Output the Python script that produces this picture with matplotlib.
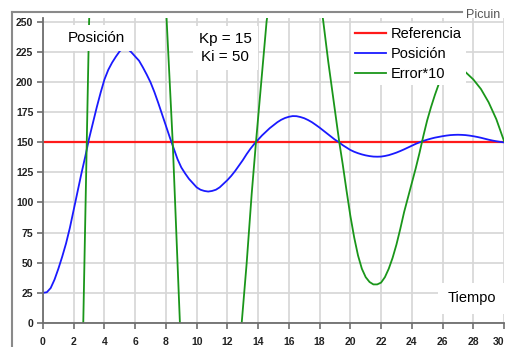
import matplotlib
matplotlib.use("Agg")
import matplotlib.pyplot as plt
from matplotlib.lines import Line2D

# position of the PI-controlled system (0.25 s steps)
tiempo = [i * 0.25 for i in range(121)]
posicion = [25, 25.5, 29, 36, 45, 55, 66, 79, 94, 109,
            124, 138, 153, 166, 179, 191, 202, 210, 216, 221,
            225.5, 228, 227.5, 224.5, 221, 217.5, 212, 206, 199.5, 191.5,
            182.5, 173, 163.5, 154, 145, 136, 129, 124, 119.5, 116,
            112.5, 110.5, 109.5, 109, 109.5, 110.5, 112.5, 115.5, 118.5, 122,
            126, 130.5, 135, 140, 144.5, 148.5, 152, 155.5, 158.5, 161.5,
            164, 166.5, 168.5, 170, 171, 171.6, 171.5, 170.8, 169.8, 168.3,
            166.5, 164.3, 162, 159.5, 157, 154.5, 152, 150, 147.5, 145.5,
            143.5, 142, 140.8, 139.8, 139, 138.4, 138, 137.9, 138, 138.5,
            139.2, 140.2, 141.3, 142.6, 144, 145.5, 147, 148.5, 149.8, 151,
            152, 152.9, 153.7, 154.3, 154.9, 155.4, 155.8, 156, 156.1, 156,
            155.8, 155.4, 154.9, 154.3, 153.6, 152.8, 152, 151.3, 150.7, 150.2,
            149.8]
referencia = [150] * len(tiempo)

# error*10 curve (values outside 0..250 get clipped by the axes)
error_t = [0, 1.0, 2.0, 2.62, 2.81, 3.0, 3.5, 5.3, 7.0, 8.05, 8.44, 8.91,
           9.5, 10.8, 12.0, 12.93, 13.25, 13.58, 13.86, 14.55, 15.5, 16.3,
           17.3, 18.24, 18.56, 19.28, 19.5, 19.75, 20.0, 20.25, 20.5, 20.75,
           21.0, 21.25, 21.5, 21.75, 22.0, 22.25, 22.5, 22.75, 23.0, 23.25,
           23.5, 23.75, 24.0, 24.25, 24.5, 24.75, 25.0, 25.25, 25.5, 25.75,
           26.0, 26.5, 27.0, 27.5, 28.0, 28.5, 29.0, 29.5, 30.0]
error_v = [-1100, -800, -400, 0, 125, 250, 440, 940, 640, 250, 150, 0,
           -150, -260, -150, 0, 49, 107, 150, 250, 340, 370,
           340, 250, 217, 150, 132, 110, 89, 71, 56, 45,
           38, 34, 32, 32, 33.5, 38, 45, 54, 65, 78,
           92, 104, 116, 128, 141, 155, 168, 179, 189, 198,
           204, 209, 210, 208, 202, 194, 183, 169, 151]

x_ticks = list(range(0, 31, 2))
y_ticks = list(range(0, 251, 25))

W, H = 506, 347
fig = plt.figure(figsize=(W / 100, H / 100), dpi=100)
fig.patch.set_facecolor('white')
ax = fig.add_axes([43 / W, 24 / H, 461 / W, (323 - 17.9) / H])

ax.plot(tiempo, referencia, color='#ff1a1a', lw=1.6, label='Referencia', zorder=2)
ax.plot(tiempo, posicion, color='#1a1aff', lw=1.3, label='Posición', zorder=2)
ax.plot(error_t, error_v, color='#1a961a', lw=1.3, label='Error*10', zorder=2)

ax.set_xlim(0, 30)
ax.set_ylim(0, 253)
ax.set_xticks(x_ticks)
ax.set_yticks(y_ticks)
ax.grid(True, color='#d6d6d6', lw=1.2)
ax.set_axisbelow(True)
for s in ['top', 'right']:
    ax.spines[s].set_visible(False)
for s in ['left', 'bottom']:
    ax.spines[s].set_color('#6e6e6e')
    ax.spines[s].set_linewidth(1.3)
ax.tick_params(axis='both', direction='out', colors='#6e6e6e', length=4, width=1.2,
               labelcolor='#222222', labelsize=7.5)
ax.tick_params(axis='x', pad=6)
ax.tick_params(axis='y', pad=3)
for lab in ax.get_xticklabels() + ax.get_yticklabels():
    lab.set_fontweight('bold')
    lab.set_family('Liberation Sans')
# last x label sits on the figure edge; keep it whole
ax.get_xticklabels()[-1].set_horizontalalignment('right')

box = dict(facecolor='white', edgecolor='none', boxstyle='square,pad=0.4')
ax.text(3.45, 236.5, 'Posición', ha='center', va='center', fontsize=11,
        family='Liberation Sans', bbox=box, zorder=3)
ax.text(11.87, 228, 'Kp = 15\nKi = 50', ha='center', va='center', fontsize=11,
        family='Liberation Sans', linespacing=1.3, bbox=box, zorder=3)
ax.text(27.88, 20.4, 'Tiempo', ha='center', va='center', fontsize=10.5,
        family='Liberation Sans', zorder=3,
        bbox=dict(facecolor='white', edgecolor='none', boxstyle='square,pad=0.6'))

leg = ax.legend(loc='upper left', bbox_to_anchor=(351 / W, 1 - 23 / H),
                bbox_transform=fig.transFigure, borderaxespad=0, borderpad=0.3,
                frameon=True, fancybox=False, handlelength=2.1, handletextpad=0.35,
                labelspacing=0.4, prop={'family': 'Liberation Sans', 'size': 10.5})
leg.get_frame().set_facecolor('white')
leg.get_frame().set_edgecolor('none')
leg.get_frame().set_alpha(1)
leg.set_zorder(4)

# outer grey frame and site name
fig.add_artist(Line2D([12 / W, 462 / W], [1 - 12 / H, 1 - 12 / H],
                      color='#8a8a8a', lw=1.5, transform=fig.transFigure))
fig.add_artist(Line2D([12 / W, 12 / W], [0, 1 - 12 / H],
                      color='#8a8a8a', lw=1.5, transform=fig.transFigure))
fig.text(466 / W, 1 - 15 / H, 'Picuin', ha='left', va='center', fontsize=9,
         family='Liberation Sans', color='#555555')

fig.savefig('out.png', dpi=100)
